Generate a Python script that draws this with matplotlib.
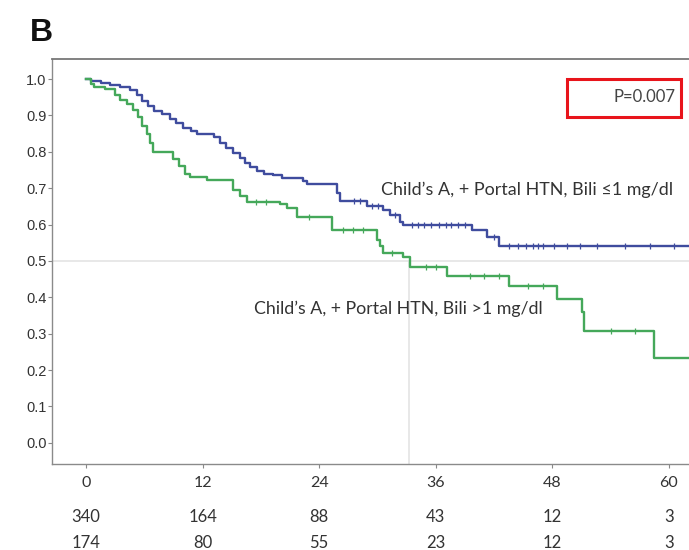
import numpy as np
import matplotlib.pyplot as plt
from matplotlib.patches import Rectangle

# Kaplan-Meier steps (months, survival after the step)
t_low = [0, 0.5, 1.5, 2.5, 3.5, 4.5, 5.2, 5.8, 6.4, 7.0, 7.8, 8.6, 9.3, 10.0, 10.8,
         11.4, 13.2, 13.8, 14.4, 15.1, 15.8, 16.4, 16.9, 17.6, 18.3, 19.2, 20.2,
         22.3, 22.7, 25.8, 26.1, 28.9, 30.6, 31.3, 32.3, 32.6, 39.7, 41.3, 42.5]
s_low = [1.0, 0.995, 0.99, 0.984, 0.978, 0.97, 0.955, 0.94, 0.925, 0.912, 0.905,
         0.89, 0.878, 0.866, 0.856, 0.848, 0.84, 0.825, 0.81, 0.797, 0.782, 0.768,
         0.758, 0.748, 0.74, 0.735, 0.728, 0.72, 0.712, 0.687, 0.664, 0.65, 0.64,
         0.626, 0.607, 0.6, 0.585, 0.566, 0.542]
cens_low = [27.6, 28.2, 29.4, 30.1, 31.8, 33.5, 34.2, 34.8, 35.5, 36.3, 37.0, 37.6,
            38.3, 39.0, 42.0, 43.5, 44.5, 45.3, 46.0, 46.5, 47.0, 48.2, 49.5, 50.8,
            52.6, 55.5, 58.0, 60.5]

t_high = [0, 0.5, 0.8, 2.0, 3.0, 3.5, 4.2, 4.8, 5.3, 5.8, 6.3, 6.6, 6.9, 9.0, 9.6,
          10.2, 10.7, 12.4, 15.1, 15.8, 16.6, 20.0, 20.7, 21.7, 25.3, 29.9, 30.3,
          30.6, 32.6, 33.3, 37.2, 43.5, 48.5, 51.0, 51.3, 58.5]
s_high = [1.0, 0.985, 0.978, 0.972, 0.955, 0.942, 0.93, 0.915, 0.895, 0.87, 0.85,
          0.825, 0.8, 0.78, 0.76, 0.74, 0.731, 0.722, 0.695, 0.678, 0.662, 0.656,
          0.645, 0.621, 0.585, 0.558, 0.54, 0.522, 0.511, 0.484, 0.458, 0.43, 0.396,
          0.36, 0.308, 0.234]
cens_high = [17.5, 18.5, 23.0, 26.5, 27.5, 28.5, 31.5, 35.0, 36.0, 39.5, 41.0, 42.5,
             45.5, 47.0, 54.0, 56.5]

months = [0, 12, 24, 36, 48, 60]
risk_low = [340, 164, 88, 43, 12, 3]
risk_high = [174, 80, 55, 23, 12, 3]
median_high = 33.2

label_low = "Child\u2019s A, + Portal HTN, Bili \u22641 mg/dl"
label_high = "Child\u2019s A, + Portal HTN, Bili >1 mg/dl"

blue = '#3f4c9e'
green = '#45a85a'
txt = '#333333'
x_end = 63


def surv_at(t, ts, ss):
    i = np.searchsorted(ts, t, side='right') - 1
    return ss[i]


fig = plt.figure(figsize=(6.89, 5.5), dpi=100)
ax = fig.add_axes([0.0755, 0.1564, 0.9245, 0.7363])

# reference lines at the median
ax.axhline(0.5, color='#e4e4e4', lw=1.2, zorder=1)
ax.plot([median_high, median_high], [-0.1, 0.5], color='#e4e4e4', lw=1.2, zorder=1)

ax.plot(t_low + [x_end], s_low + [s_low[-1]], drawstyle='steps-post', color=blue, lw=1.7, zorder=3)
ax.plot(t_high + [x_end], s_high + [s_high[-1]], drawstyle='steps-post', color=green, lw=1.7, zorder=3)

ax.plot(cens_low, [surv_at(c, t_low, s_low) for c in cens_low], ls='none', marker='|',
        ms=4, mew=0.9, color=blue, zorder=4)
ax.plot(cens_high, [surv_at(c, t_high, s_high) for c in cens_high], ls='none', marker='|',
        ms=4, mew=0.9, color=green, zorder=4)

ax.set_xlim(-3.5, 62.06)
ax.set_ylim(-0.058, 1.055)
ax.set_yticks(np.arange(0, 1.01, 0.1))
ax.set_yticklabels([f'{v:.1f}' for v in np.arange(0, 1.01, 0.1)], fontsize=10.5,
                   family='Liberation Sans', color=txt)
ax.set_xticks(months)
ax.set_xticklabels([str(m) for m in months], fontsize=11.5, family='Lato', color=txt)
ax.tick_params(axis='both', direction='out', length=3, width=0.8, color='#888888')
ax.tick_params(axis='x', pad=6)
ax.tick_params(axis='y', pad=1)

for side in ['left', 'bottom']:
    ax.spines[side].set_color('#8a8a8a')
    ax.spines[side].set_linewidth(1.0)
ax.spines['top'].set_color('#777777')
ax.spines['top'].set_linewidth(1.3)
ax.spines['right'].set_visible(False)

ax.text(30.4, 0.695, label_low, fontsize=12.9, family='Lato', color=txt, va='center', ha='left')
ax.text(17.3, 0.368, label_high, fontsize=12.8, family='Lato', color=txt, va='center', ha='left')
ax.text(60.7, 0.95, 'P=0.007', fontsize=12, family='Lato', color='#444444', va='center', ha='right')

fig.patches.append(Rectangle((0.823, 0.787), 0.1655, 0.069, transform=fig.transFigure,
                             fill=False, edgecolor='#e8141b', linewidth=2.2))

# numbers at risk
tr = ax.get_xaxis_transform()
for m, a, b in zip(months, risk_low, risk_high):
    ax.text(m, -0.131, str(a), transform=tr, fontsize=12, family='Lato', color=txt,
            ha='center', va='center', clip_on=False)
    ax.text(m, -0.195, str(b), transform=tr, fontsize=12, family='Lato', color=txt,
            ha='center', va='center', clip_on=False)

fig.text(0.043, 0.94, 'B', fontsize=23, fontweight='bold', family='Liberation Sans',
         color='#111111', va='center', ha='left')

fig.savefig('out.png', dpi=100)
